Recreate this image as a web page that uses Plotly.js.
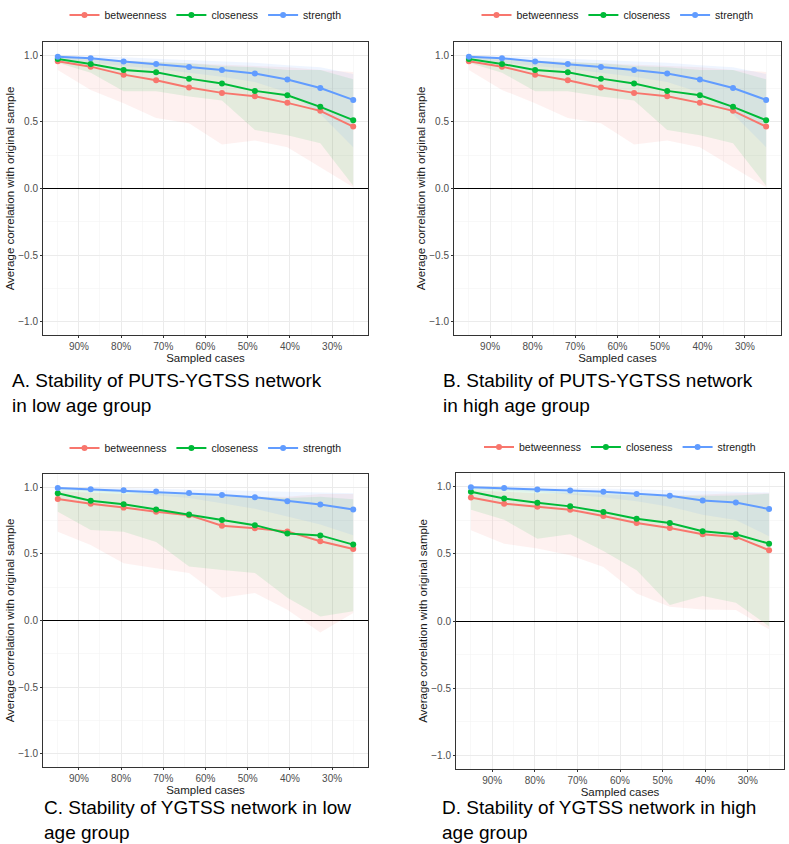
<!DOCTYPE html>
<html>
<head>
<meta charset="utf-8">
<script src="https://cdn.plot.ly/plotly-3.0.1.min.js"></script>
<style>
  html, body { margin: 0; padding: 0; background: #ffffff; }
  #chart { width: 789px; height: 844px; }
</style>
</head>
<body>
<div id="chart"></div>
<script>
// Case-dropping bootstrap: proportion of cases retained (%)
const sampled = [95, 87.2, 79.4, 71.7, 63.9, 56.1, 48.3, 40.6, 32.8, 25];
const measures = ['betweenness', 'closeness', 'strength'];
const xTickVals = [90, 80, 70, 60, 50, 40, 30];
const xTickText = ['90%', '80%', '70%', '60%', '50%', '40%', '30%'];

// A. PUTS-YGTSS network, low age group
const aBetweenness   = [0.955, 0.915, 0.855, 0.813, 0.758, 0.718, 0.693, 0.643, 0.583, 0.465];
const aBetweennessLo = [0.89, 0.74, 0.64, 0.53, 0.49, 0.33, 0.36, 0.31, 0.16, 0.01];
const aBetweennessHi = [0.99, 0.97, 0.96, 0.95, 0.94, 0.93, 0.92, 0.91, 0.89, 0.875];
const aCloseness     = [0.972, 0.935, 0.89, 0.873, 0.825, 0.788, 0.733, 0.70, 0.613, 0.513];
const aClosenessLo   = [0.945, 0.87, 0.73, 0.73, 0.69, 0.66, 0.44, 0.40, 0.34, 0.02];
const aClosenessHi   = [0.99, 0.98, 0.96, 0.95, 0.94, 0.92, 0.91, 0.89, 0.89, 0.82];
const aStrength      = [0.99, 0.978, 0.953, 0.935, 0.913, 0.89, 0.863, 0.818, 0.755, 0.665];
const aStrengthLo    = [0.975, 0.95, 0.92, 0.90, 0.87, 0.84, 0.80, 0.72, 0.56, 0.31];
const aStrengthHi    = [1.0, 0.995, 0.985, 0.975, 0.965, 0.955, 0.945, 0.925, 0.91, 0.86];

// B. PUTS-YGTSS network, high age group
const bBetweenness   = [0.955, 0.915, 0.855, 0.813, 0.758, 0.718, 0.693, 0.643, 0.583, 0.465];
const bBetweennessLo = [0.89, 0.74, 0.64, 0.53, 0.49, 0.33, 0.36, 0.31, 0.16, 0.01];
const bBetweennessHi = [0.99, 0.97, 0.96, 0.95, 0.94, 0.93, 0.92, 0.91, 0.89, 0.875];
const bCloseness     = [0.972, 0.935, 0.89, 0.873, 0.825, 0.788, 0.733, 0.70, 0.613, 0.513];
const bClosenessLo   = [0.945, 0.87, 0.73, 0.73, 0.69, 0.66, 0.44, 0.40, 0.34, 0.02];
const bClosenessHi   = [0.99, 0.98, 0.96, 0.95, 0.94, 0.92, 0.91, 0.89, 0.89, 0.82];
const bStrength      = [0.99, 0.978, 0.953, 0.935, 0.913, 0.89, 0.863, 0.818, 0.755, 0.665];
const bStrengthLo    = [0.975, 0.95, 0.92, 0.90, 0.87, 0.84, 0.80, 0.72, 0.56, 0.31];
const bStrengthHi    = [1.0, 0.995, 0.985, 0.975, 0.965, 0.955, 0.945, 0.925, 0.91, 0.86];

// C. YGTSS network, low age group
const cBetweenness   = [0.913, 0.876, 0.848, 0.816, 0.791, 0.711, 0.692, 0.669, 0.595, 0.537];
const cBetweennessLo = [0.667, 0.567, 0.43, 0.393, 0.356, 0.17, 0.206, 0.08, -0.09, 0.057];
const cBetweennessHi = [0.97, 0.96, 0.95, 0.95, 0.94, 0.93, 0.93, 0.93, 0.95, 0.95];
const cCloseness     = [0.955, 0.90, 0.873, 0.833, 0.796, 0.754, 0.716, 0.654, 0.639, 0.57];
const cClosenessLo   = [0.816, 0.68, 0.667, 0.59, 0.405, 0.38, 0.356, 0.17, 0.03, 0.07];
const cClosenessHi   = [0.99, 0.98, 0.97, 0.96, 0.95, 0.94, 0.93, 0.92, 0.93, 0.91];
const cStrength      = [0.995, 0.985, 0.978, 0.968, 0.958, 0.943, 0.925, 0.896, 0.871, 0.833];
const cStrengthLo    = [0.98, 0.97, 0.96, 0.94, 0.92, 0.88, 0.84, 0.78, 0.72, 0.64];
const cStrengthHi    = [1.0, 1.0, 0.995, 0.99, 0.985, 0.98, 0.975, 0.97, 0.965, 0.955];

// D. YGTSS network, high age group
const dBetweenness   = [0.918, 0.872, 0.849, 0.827, 0.78, 0.728, 0.691, 0.644, 0.625, 0.526];
const dBetweennessLo = [0.674, 0.575, 0.538, 0.489, 0.402, 0.205, 0.106, 0.086, 0.081, -0.062];
const dBetweennessHi = [0.97, 0.96, 0.95, 0.95, 0.94, 0.93, 0.93, 0.94, 0.95, 0.95];
const dCloseness     = [0.96, 0.911, 0.879, 0.852, 0.81, 0.76, 0.728, 0.667, 0.644, 0.575];
const dClosenessLo   = [0.827, 0.753, 0.612, 0.644, 0.521, 0.378, 0.119, 0.185, 0.136, -0.04];
const dClosenessHi   = [0.99, 0.98, 0.97, 0.96, 0.95, 0.94, 0.93, 0.93, 0.933, 0.946];
const dStrength      = [0.995, 0.988, 0.978, 0.97, 0.96, 0.943, 0.931, 0.896, 0.881, 0.832];
const dStrengthLo    = [0.98, 0.97, 0.96, 0.94, 0.92, 0.89, 0.85, 0.79, 0.75, 0.63];
const dStrengthHi    = [1.0, 1.0, 0.995, 0.99, 0.985, 0.98, 0.975, 0.97, 0.965, 0.955];

const panelTitles = [
  'A. Stability of PUTS-YGTSS network<br>in low age group',
  'B. Stability of PUTS-YGTSS network<br>in high age group',
  'C. Stability of YGTSS network in low<br>age group',
  'D. Stability of YGTSS network in high<br>age group'
];

const lineColors = ['#F8766D', '#00BA38', '#619CFF'];
const ribbonColors = ['rgba(248,118,109,0.1)', 'rgba(0,186,56,0.1)', 'rgba(97,156,255,0.1)'];

const panels = [
  { mean: [aBetweenness, aCloseness, aStrength], lo: [aBetweennessLo, aClosenessLo, aStrengthLo], hi: [aBetweennessHi, aClosenessHi, aStrengthHi] },
  { mean: [bBetweenness, bCloseness, bStrength], lo: [bBetweennessLo, bClosenessLo, bStrengthLo], hi: [bBetweennessHi, bClosenessHi, bStrengthHi] },
  { mean: [cBetweenness, cCloseness, cStrength], lo: [cBetweennessLo, cClosenessLo, cStrengthLo], hi: [cBetweennessHi, cClosenessHi, cStrengthHi] },
  { mean: [dBetweenness, dCloseness, dStrength], lo: [dBetweennessLo, dClosenessLo, dStrengthLo], hi: [dBetweennessHi, dClosenessHi, dStrengthHi] }
];

// Page geometry (pixels) for each panel; titles are anchored by their bottom edge
const W = 789, H = 844;
const boxes = [
  { l: 43,  r: 368, t: 42,  b: 335, legendY: 15,  titleX: 11,  titleBottom: 417 },
  { l: 454, r: 781, t: 42,  b: 335, legendY: 15,  titleX: 442, titleBottom: 417 },
  { l: 43,  r: 368, t: 474, b: 767, legendY: 448, titleX: 43,  titleBottom: 844 },
  { l: 456, r: 784, t: 473, b: 769, legendY: 447, titleX: 441, titleBottom: 844 }
];

const FONT = 'Liberation Sans, Arial, sans-serif';
const traces = [];
const layout = {
  width: W, height: H,
  margin: { l: 0, r: 0, t: 0, b: 0 },
  paper_bgcolor: '#ffffff',
  plot_bgcolor: '#ffffff',
  font: { family: FONT, size: 11, color: '#1a1a1a' },
  showlegend: true,
  annotations: [],
  hovermode: false
};

const revX = sampled.slice().reverse();

panels.forEach((p, i) => {
  const n = i === 0 ? '' : String(i + 1);
  const xa = 'x' + n, ya = 'y' + n;
  const legendName = 'legend' + n;
  const box = boxes[i];

  // confidence ribbons
  measures.forEach((m, k) => {
    traces.push({
      type: 'scatter', mode: 'lines',
      x: sampled.concat(revX),
      y: p.hi[k].concat(p.lo[k].slice().reverse()),
      fill: 'toself', fillcolor: ribbonColors[k],
      line: { width: 0, color: ribbonColors[k] },
      xaxis: xa, yaxis: ya, showlegend: false, hoverinfo: 'skip'
    });
  });
  // mean correlation lines with points
  measures.forEach((m, k) => {
    traces.push({
      type: 'scatter', mode: 'lines+markers',
      name: m,
      x: sampled, y: p.mean[k],
      line: { color: lineColors[k], width: 2 },
      marker: { color: lineColors[k], size: 6 },
      xaxis: xa, yaxis: ya,
      legend: legendName,
      showlegend: true
    });
  });

  layout['xaxis' + n] = {
    domain: [box.l / W, box.r / W],
    anchor: ya,
    range: [98.5, 21.5],
    tickvals: xTickVals,
    ticktext: xTickText,
    tickfont: { size: 10, color: '#4D4D4D', family: FONT },
    ticks: 'outside', ticklen: 2, tickcolor: '#333333', tickwidth: 1,
    showgrid: true, gridcolor: '#EBEBEB', gridwidth: 1,
    minor: { tickvals: [95, 85, 75, 65, 55, 45, 35, 25], showgrid: true, gridcolor: '#F4F4F4', gridwidth: 0.6, ticks: '' },
    showline: true, mirror: true, linecolor: '#333333', linewidth: 1,
    zeroline: false,
    title: { text: 'Sampled cases', font: { size: 11.5, color: '#1a1a1a', family: FONT }, standoff: 0 }
  };
  layout['yaxis' + n] = {
    domain: [1 - box.b / H, 1 - box.t / H],
    anchor: xa,
    range: [-1.1, 1.1],
    tickvals: [-1, -0.5, 0, 0.5, 1],
    tickformat: '.1f',
    tickfont: { size: 10, color: '#4D4D4D', family: FONT },
    ticks: 'outside', ticklen: 2, tickcolor: '#333333', tickwidth: 1,
    showgrid: true, gridcolor: '#EBEBEB', gridwidth: 1,
    minor: { tickvals: [-0.75, -0.25, 0.25, 0.75], showgrid: true, gridcolor: '#F4F4F4', gridwidth: 0.6, ticks: '' },
    showline: true, mirror: true, linecolor: '#333333', linewidth: 1,
    zeroline: true, zerolinecolor: '#000000', zerolinewidth: 1,
    title: { text: 'Average correlation with original sample', font: { size: 11.5, color: '#1a1a1a', family: FONT }, standoff: 1 }
  };
  layout[legendName] = {
    orientation: 'h',
    x: (box.l + box.r) / 2 / W, xanchor: 'center',
    y: 1 - box.legendY / H, yanchor: 'middle',
    font: { size: 10.5, color: '#1a1a1a', family: FONT },
    bgcolor: 'rgba(0,0,0,0)',
    itemwidth: 30,
    tracegroupgap: 0
  };
  layout.annotations.push({
    xref: 'paper', yref: 'paper',
    x: box.titleX / W, y: 1 - box.titleBottom / H,
    xanchor: 'left', yanchor: 'bottom', align: 'left',
    showarrow: false, borderpad: 0,
    text: panelTitles[i],
    font: { size: 19, color: '#000000', family: FONT }
  });
});

Plotly.newPlot('chart', traces, layout, { displayModeBar: false, staticPlot: true });
</script>
</body>
</html>
